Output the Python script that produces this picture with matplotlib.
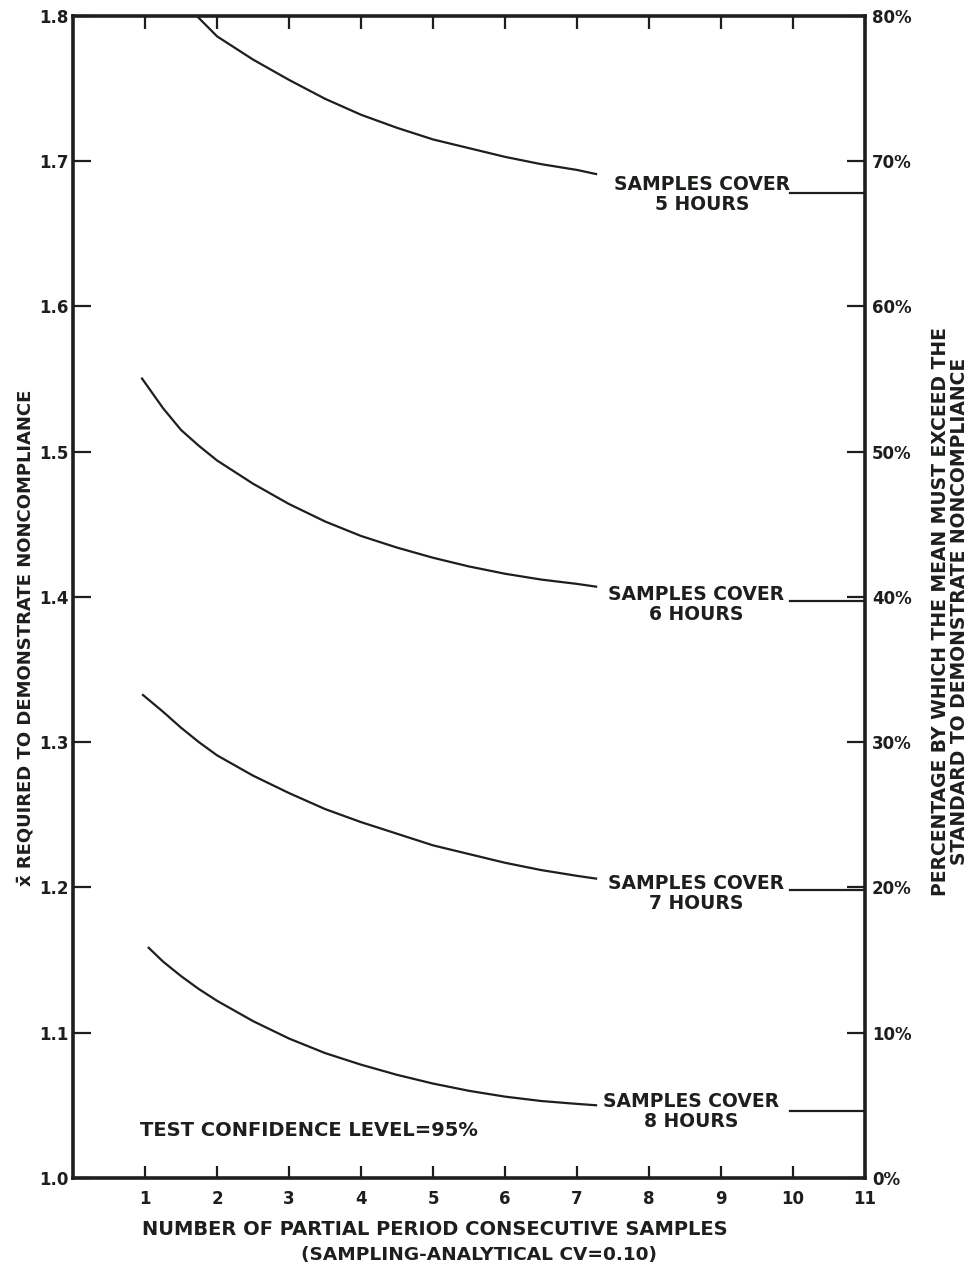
import matplotlib.pyplot as plt
import numpy as np

# values: number of samples (n) and required x-bar
n_5h = [1.72, 2, 2.5, 3, 3.5, 4, 4.5, 5, 5.5, 6, 6.5, 7, 7.28]
xbar_5h = [1.800, 1.786, 1.770, 1.756, 1.743, 1.732, 1.723, 1.715, 1.709, 1.703, 1.698, 1.694, 1.691]

n_6h = [0.95, 1.25, 1.5, 1.75, 2, 2.5, 3, 3.5, 4, 4.5, 5, 5.5, 6, 6.5, 7, 7.28]
xbar_6h = [1.551, 1.530, 1.515, 1.504, 1.494, 1.478, 1.464, 1.452, 1.442, 1.434,
           1.427, 1.421, 1.416, 1.412, 1.409, 1.407]

n_7h = [0.96, 1.25, 1.5, 1.75, 2, 2.5, 3, 3.5, 4, 4.5, 5, 5.5, 6, 6.5, 7, 7.28]
xbar_7h = [1.333, 1.321, 1.310, 1.300, 1.291, 1.277, 1.265, 1.254, 1.245, 1.237,
           1.229, 1.223, 1.217, 1.212, 1.208, 1.206]

n_8h = [1.04, 1.25, 1.5, 1.75, 2, 2.5, 3, 3.5, 4, 4.5, 5, 5.5, 6, 6.5, 7, 7.28]
xbar_8h = [1.159, 1.149, 1.139, 1.130, 1.122, 1.108, 1.096, 1.086, 1.078, 1.071,
           1.065, 1.060, 1.056, 1.053, 1.051, 1.050]

hours = [5, 6, 7, 8]
curves = [(n_5h, xbar_5h), (n_6h, xbar_6h), (n_7h, xbar_7h), (n_8h, xbar_8h)]
# where each label's leader line meets the right (percentage) axis
right_pct = [67.8, 39.7, 19.8, 4.6]

x_ticks = list(range(1, 12))
y_ticks = [1.0, 1.1, 1.2, 1.3, 1.4, 1.5, 1.6, 1.7, 1.8]
pct_ticks = list(range(0, 81, 10))

ink = "#1c1f1c"
plt.rcParams['font.family'] = ['DejaVu Sans']
plt.rcParams['font.weight'] = 'bold'

fig = plt.figure(figsize=(9.76, 12.68), dpi=100)
ax = fig.add_axes([0.0748, 0.071, 0.8115, 0.9164])

for (n, xb) in curves:
    ax.plot(n, xb, color=ink, lw=1.6, solid_capstyle='butt', solid_joinstyle='round')

ax.set_xlim(0, 11)
ax.set_ylim(1.0, 1.8)
ax.set_xticks(x_ticks)
ax.set_xticklabels([str(t) for t in x_ticks], fontsize=12, fontweight='bold', color=ink)
ax.set_yticks(y_ticks)
ax.set_yticklabels(["%.1f" % t for t in y_ticks], fontsize=12, fontweight='bold', color=ink)
ax.tick_params(axis='x', direction='in', length=9, width=1.6, pad=9, top=True, colors=ink)
ax.tick_params(axis='y', direction='in', length=13, width=1.6, pad=3, colors=ink)
for s in ax.spines.values():
    s.set_linewidth(2.6)
    s.set_color(ink)

ax2 = ax.twinx()
ax2.set_ylim(0, 80)
ax2.set_yticks(pct_ticks)
ax2.set_yticklabels(["%d%%" % p for p in pct_ticks], fontsize=12, fontweight='bold', color=ink)
ax2.tick_params(axis='y', direction='in', length=13, width=1.6, pad=5, colors=ink)
for s in ax2.spines.values():
    s.set_visible(False)

# labels and leader lines
label_x = [8.74, 8.65, 8.65, 8.59]
label_y = [1.677, 1.395, 1.196, 1.046]
for h, lx, ly, p in zip(hours, label_x, label_y, right_pct):
    ax.text(lx, ly, "SAMPLES COVER\n%d HOURS" % h, ha='center', va='center',
            fontsize=13.5, fontweight='bold', color=ink, linespacing=1.05)
    ax2.plot([9.96, 11], [p, p], color=ink, lw=1.6, clip_on=False)

ax.text(0.93, 1.033, "TEST CONFIDENCE LEVEL=95%", fontsize=14, fontweight='bold',
        color=ink, va='center')

fig.text(0.026, 0.497, "x\u0304 REQUIRED TO DEMONSTRATE NONCOMPLIANCE", rotation=90,
         ha='center', va='center', fontsize=13, fontweight='bold', color=ink)
fig.text(0.973, 0.518, "PERCENTAGE BY WHICH THE MEAN MUST EXCEED THE\nSTANDARD TO DEMONSTRATE NONCOMPLIANCE",
         rotation=90, ha='center', va='center', fontsize=13.5, fontweight='bold',
         color=ink, linespacing=1.0)
fig.text(0.445, 0.030, "NUMBER OF PARTIAL PERIOD CONSECUTIVE SAMPLES", ha='center', va='center',
         fontsize=14, fontweight='bold', color=ink)
fig.text(0.491, 0.010, "(SAMPLING-ANALYTICAL CV=0.10)", ha='center', va='center',
         fontsize=13.3, fontweight='bold', color=ink)

fig.savefig("out.png", dpi=100)
